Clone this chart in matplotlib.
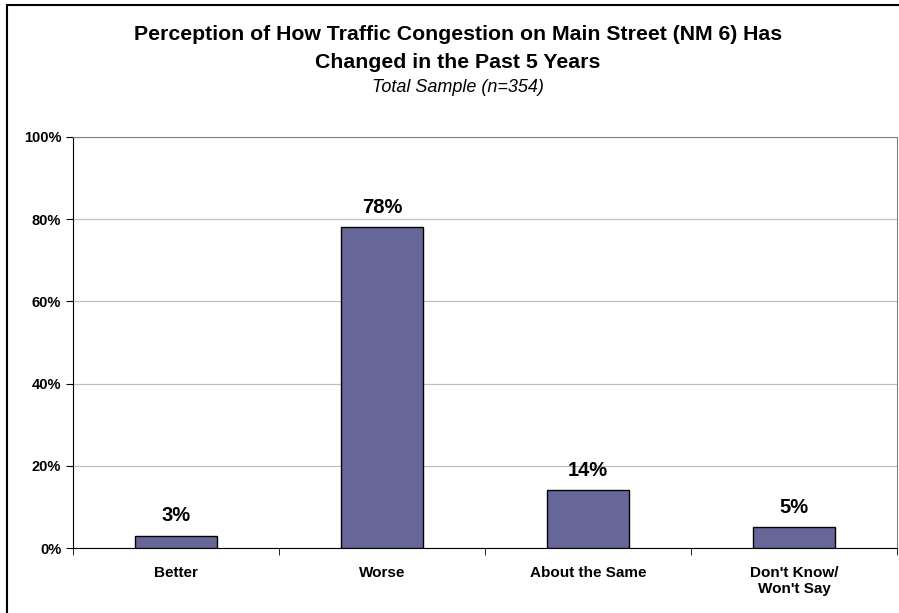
import numpy as np
import matplotlib.pyplot as plt
from matplotlib.patches import Rectangle

plt.rcParams['font.family'] = ['Liberation Sans', 'DejaVu Sans']

categories = ['Better', 'Worse', 'About the Same', "Don't Know/\nWon't Say"]
values = [3, 78, 14, 5]
yticks = [0, 20, 40, 60, 80, 100]

fig = plt.figure(figsize=(8.99, 6.13), dpi=100)
ax = fig.add_axes([73/899, 1 - 548/613, (897 - 73)/899, (548 - 137)/613])

x = np.arange(len(categories))
ax.bar(x, values, width=0.4, color='#666699', edgecolor='black', linewidth=1, zorder=3)
for xi, v in zip(x, values):
    ax.text(xi, v + 2.5, '%d%%' % v, ha='center', va='bottom', fontsize=14.5, fontweight='bold')

ax.set_xlim(-0.5, len(categories) - 0.5)
ax.set_ylim(0, 100)
ax.set_yticks(yticks)
ax.set_yticklabels(['%d%%' % t for t in yticks], fontsize=10.5, fontweight='bold')
ax.yaxis.grid(True, color='#c0c0c0', linewidth=0.9, zorder=0)

ax.set_xticks(x)
ax.set_xticklabels(categories, fontsize=11, fontweight='bold')
ax.tick_params(axis='x', length=0, pad=13)
ax.set_xticks(np.arange(-0.5, len(categories)), minor=True)
ax.tick_params(axis='x', which='minor', length=5, direction='out')
ax.tick_params(axis='y', length=5, direction='out')

ax.spines['left'].set_color('black')
ax.spines['bottom'].set_color('black')
ax.spines['top'].set_color('#808080')
ax.spines['right'].set_color('#808080')

cx = 458/899
fig.text(cx, 1 - 35/613, 'Perception of How Traffic Congestion on Main Street (NM 6) Has',
         ha='center', va='center', fontsize=15.3, fontweight='bold')
fig.text(cx, 1 - 62/613, 'Changed in the Past 5 Years',
         ha='center', va='center', fontsize=15.3, fontweight='bold')
fig.text(cx, 1 - 87/613, 'Total Sample (n=354)',
         ha='center', va='center', fontsize=13, style='italic')

fig.patches.append(Rectangle((7/899, -0.1), 1.2, 1.1 - 5/613, transform=fig.transFigure,
                             fill=False, edgecolor='black', linewidth=1.5, clip_on=False))

fig.savefig('out.png', dpi=100)
